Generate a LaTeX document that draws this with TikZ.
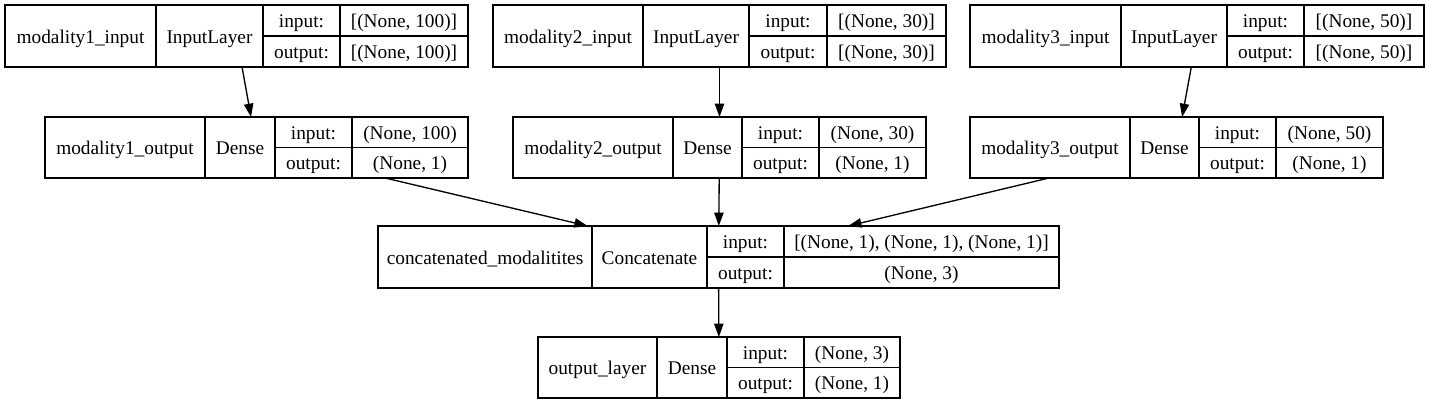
\documentclass[tikz,border=0pt]{standalone}
\usepackage{fontspec}
\setmainfont{Liberation Serif}
\usetikzlibrary{arrows.meta}
\newcommand\cell[6]{%
  \node[cell,minimum width={(#4-#2)*0.75pt},minimum height={(#5-#3)*0.75pt}]
    (#1) at ({(#2+#4)/2},{(#3+#5)/2}) {#6};}
\newcommand\recbox[8]{\def\rN{#1}\def\rA{#2}\def\rB{#3}\def\rC{#4}\def\rD{#5}\def\rE{#6}\def\rT{#7}\def\rU{#8}}
\newcommand\rectext[4]{%
  \pgfmathsetmacro\rM{(\rT+\rU)/2}%
  \cell{\rN-name}{\rA}{\rT}{\rB}{\rU}{#1}
  \cell{\rN-type}{\rB}{\rT}{\rC}{\rU}{#2}
  \cell{\rN-inl}{\rC}{\rT}{\rD}{\rM}{input:}
  \cell{\rN-in}{\rD}{\rT}{\rE}{\rM}{#3}
  \cell{\rN-outl}{\rC}{\rM}{\rD}{\rU}{output:}
  \cell{\rN-out}{\rD}{\rM}{\rE}{\rU}{#4}
  \node[whole,minimum width={(\rE-\rA)*0.75pt},minimum height={(\rU-\rT)*0.75pt}]
    (\rN) at ({(\rA+\rE)/2},{(\rT+\rU)/2}) {};}
\begin{document}
\begin{tikzpicture}[x=0.75pt,y=-0.75pt,
  every node/.style={font=\fontsize{14.5}{17}\selectfont},
  cell/.style={draw=black,line width=1pt,inner sep=0pt,outer sep=0pt,rectangle,
    text height=12pt,text depth=1.5pt},
  whole/.style={inner sep=0pt,outer sep=0pt,rectangle},
  edge/.style={draw=black,line width=1pt,-{Triangle[length=10pt,width=7pt]}}]
\useasboundingbox (0,0) rectangle (1429,405);
\recbox{r1}{5}{156}{263}{340}{468}{5}{67}
\rectext{modality1\_input}{InputLayer}{[(None, 100)]}{[(None, 100)]}
\recbox{r2}{493}{643}{749}{827}{946}{5}{67}
\rectext{modality2\_input}{InputLayer}{[(None, 30)]}{[(None, 30)]}
\recbox{r3}{970}{1121}{1227}{1304}{1424}{5}{67}
\rectext{modality3\_input}{InputLayer}{[(None, 50)]}{[(None, 50)]}
\recbox{r4}{45}{205}{275}{352}{468}{117}{178}
\rectext{modality1\_output}{Dense}{(None, 100)}{(None, 1)}
\recbox{r5}{513}{673}{742}{819}{926}{117}{178}
\rectext{modality2\_output}{Dense}{(None, 30)}{(None, 1)}
\recbox{r6}{970}{1130}{1199}{1276}{1383}{117}{178}
\rectext{modality3\_output}{Dense}{(None, 50)}{(None, 1)}
\recbox{r7}{378}{592}{707}{784}{1059}{226}{288}
\rectext{concatenated\_modalitites}{Concatenate}{[(None, 1), (None, 1), (None, 1)]}{(None, 3)}
\recbox{r8}{538}{657}{727}{804}{900}{337}{398}
\rectext{output\_layer}{Dense}{(None, 3)}{(None, 1)}
\draw[edge] (r1) -- (r4);
\draw[edge] (r2) -- (r5);
\draw[edge] (r3) -- (r6);
\draw[edge] (r4) -- (r7);
\draw[edge] (r5) -- (r7);
\draw[edge] (r6) -- (r7);
\draw[edge] (r7) -- (r8);
\end{tikzpicture}
\end{document}
